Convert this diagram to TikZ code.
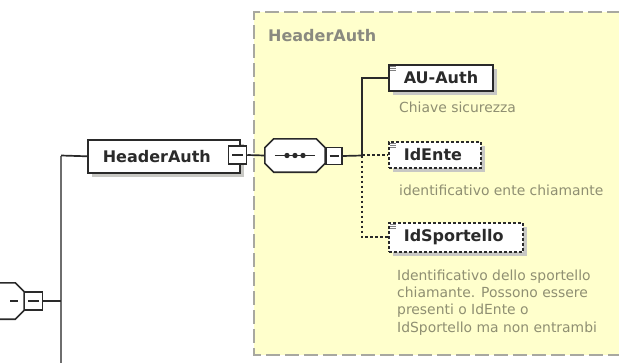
\documentclass[tikz,border=0pt]{standalone}
\usepackage{fontspec}
\setmainfont{DejaVu Sans}
\usetikzlibrary{shadows}
\definecolor{bgy}{HTML}{FFFFCC}
\definecolor{linec}{HTML}{2A2A2A}
\definecolor{vlinec}{HTML}{6E6E6E}
\definecolor{shadowc}{HTML}{C8C8C4}
\definecolor{descc}{HTML}{8F8F72}
\definecolor{titlec}{HTML}{8A8A80}
\definecolor{borderc}{HTML}{A8A8A0}
\newcommand\elfont{\fontsize{16}{19}\selectfont\bfseries}
\newcommand\descfont{\fontsize{13.9}{17.3}\selectfont}
% octagon drawn around a named node: #1 node name, #2 chamfer
\newcommand\octpath[2]{([xshift=#2]#1.north west) -- ([xshift=-#2]#1.north east) --
  ([yshift=-#2]#1.north east) -- ([yshift=#2]#1.south east) --
  ([xshift=-#2]#1.south east) -- ([xshift=#2]#1.south west) --
  ([yshift=#2]#1.south west) -- ([yshift=-#2]#1.north west) -- cycle}
\begin{document}
\begin{tikzpicture}[x=1pt,y=-1pt,
  elbox/.style={draw=linec, line width=1.6pt, fill=white, rectangle,
    inner xsep=15pt, inner ysep=0pt, align=left, font=\elfont, text=linec,
    anchor=north west,
    drop shadow={shadow xshift=4pt,shadow yshift=-4pt,fill=shadowc,opacity=1}},
  optbox/.style={elbox, dash pattern=on 3pt off 2pt},
  minusbox/.style={draw=linec, line width=1.5pt, fill=white, rectangle,
    minimum width=18pt, minimum height=18pt, inner sep=0pt,
    path picture={\draw[line width=1.4pt, linec]
      ([xshift=3.5pt]path picture bounding box.west) --
      ([xshift=-3.5pt]path picture bounding box.east);}},
  octframe/.style={draw=none, rectangle, inner sep=0pt},
  octline/.style={draw=linec, line width=1.6pt, fill=white},
  octshadow/.style={fill=shadowc, shift={(4,4)}},
  conn/.style={draw=linec, line width=1.7pt},
  vconn/.style={draw=vlinec, line width=2pt},
  dotc/.style={draw=linec, line width=1.7pt, dash pattern=on 2.5pt off 2.5pt},
  desc/.style={font=\descfont, text=descc, inner sep=0pt, align=left},
  icon/.style={draw=gray, line width=0.8pt}
]
\useasboundingbox (0,0) rectangle (619,362);
\begin{scope}
\clip (0,0) rectangle (619,362);
% yellow group box
\fill[bgy] (254,12) rectangle (640,355);
\draw[borderc, line width=1.7pt, dash pattern=on 14pt off 5pt]
  (640,12) -- (254,12) -- (254,355) -- (640,355);
\node[font=\elfont, text=titlec, anchor=base west, inner sep=0pt] (title) at (268,41) {HeaderAuth};

% left structure
\coordinate (lt) at (61,155.5);
\coordinate (lb) at (61,375);
\node[octframe, minimum width=56pt, minimum height=36pt] (lchoice) at (-4,301) {};
\fill[octshadow] \octpath{lchoice}{9pt};
\draw[octline] \octpath{lchoice}{9pt};
\draw[linec, line width=1.4pt] (10,301) -- (18,301);
\node[minusbox] (lminus) at (33.5,301) {};
\draw[vconn] (lt) -- (lb);
\draw[conn] (lminus.east) -- (lminus.east -| lt);

% main element
\node[elbox, minimum height=33pt, text width=122pt] (main) at (87,139) {HeaderAuth};
\node[minusbox] (mminus) at (237.5,155) {};
\draw[conn] (lt) -- (main.west);

% sequence compositor
\node[octframe, minimum width=60pt, minimum height=33pt] (seq) at (295,155.5) {};
\fill[octshadow] \octpath{seq}{9pt};
\draw[octline] \octpath{seq}{9pt};
\draw[linec, line width=1.6pt] ([xshift=10pt]seq.west) -- ([xshift=-10pt]seq.east);
\foreach \dx in {-8,0,8} \fill[linec] ([xshift=\dx pt]seq.center) circle (2.7pt);
\node[minusbox, minimum width=16pt, minimum height=17pt] (sminus) at (334,156) {};
\draw[conn] (mminus.east) -- (seq.west);
\coordinate (jn) at (362,155.5);
\draw[conn] (sminus.east) -- (jn);

% children
\node[elbox, minimum height=26pt, text width=74pt] (au) at (388,64) {\mbox{AU-Auth}};
\node[optbox, minimum height=26pt, text width=62pt] (ente) at (388,141) {IdEnte};
\node[optbox, minimum height=29pt, text width=104pt] (sport) at (388,222) {IdSportello};
\foreach \n in {au,ente,sport}{
  \foreach \dy in {2.5,4.5,6.5}
    \draw[icon] ([shift={(2,\dy)}]\n.north west) -- ++(6,0);
}
\draw[conn] (jn) |- (au.west);
\draw[dotc] (jn |- ente.west) -- (ente.west);
\draw[dotc] (jn) |- (sport.west);

% descriptions
\node[desc, anchor=base west] (d1) at (399,112) {Chiave sicurezza};
\node[desc, anchor=base west] (d2) at (399,195.5) {identificativo ente chiamante};
\node[desc, anchor=north west] (d3) at (397,269.5) {Identificativo dello sportello\\chiamante. Possono essere\\presenti o IdEnte o\\IdSportello ma non entrambi};
\end{scope}
\end{tikzpicture}
\end{document}
